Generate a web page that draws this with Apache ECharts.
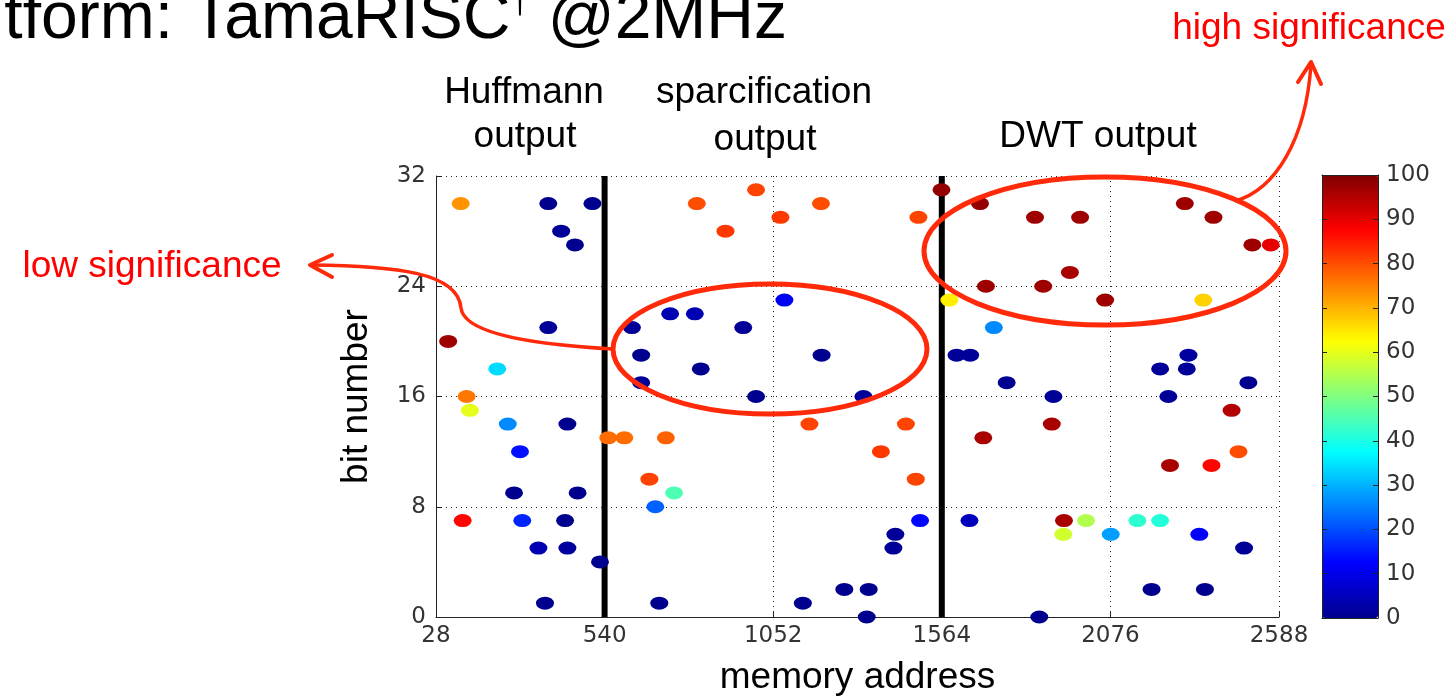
<!DOCTYPE html>
<html><head><meta charset="utf-8">
<script src="https://cdn.jsdelivr.net/npm/echarts@6/dist/echarts.min.js"></script>
<style>html,body{margin:0;padding:0;background:#fff}#c{width:1454px;height:696px}</style>
</head><body><div id="c"></div>
<script>
// ---- data ----
const xTicks = [28, 540, 1052, 1564, 2076, 2588];
const yTicks = [0, 8, 16, 24, 32];
const colorbarTicks = [0, 10, 20, 30, 40, 50, 60, 70, 80, 90, 100];
const stageBoundaries = [540, 1564];
const memAddress = [
  103, 369, 503, 408, 450, 369, 65, 214, 121, 131, 246, 427, 283, 265, 458, 109, 290, 420, 339, 427, 526, 359, 551,
  1000, 820, 1197, 1074, 1493, 907, 1086, 739, 814, 623, 961, 651, 1199, 832, 651, 1000, 1326, 600, 726, 1162, 1455,
  1379, 676, 1485, 751, 694, 1498, 1423, 1417, 1268, 1342, 706, 1142, 1336,
  1563, 1680, 1847, 1984, 2302, 2389, 2507, 2563, 1953, 1698, 1872, 2060, 1587, 2358, 1722, 1609, 1650, 2313, 2227,
  2308, 1761, 2495, 1903, 2252, 2444, 1898, 1690, 2465, 2257, 2383, 1648, 1935, 2002, 2158, 2227, 1933, 2077, 2346,
  2482, 2201, 2363, 1860
];
const bitNumber = [
  30, 30, 30, 28, 27, 21, 20, 18, 16, 15, 14, 14, 12, 9, 9, 7, 7, 7, 5, 5, 4, 1, 13,
  31, 30, 30, 29, 29, 28, 23, 22, 22, 21, 21, 19, 19, 18, 17, 16, 16, 13, 13, 14, 14,
  12, 10, 10, 9, 8, 7, 6, 5, 2, 2, 1, 1, 0,
  31, 30, 29, 29, 30, 29, 27, 27, 25, 24, 24, 23, 23, 23, 21, 19, 19, 19, 18,
  18, 17, 17, 16, 16, 15, 14, 13, 12, 11, 11, 7, 7, 7, 7, 7, 6, 6, 6,
  5, 2, 2, 0
];
const significance = [
  73, 0, 0, 1, 0, 1, 97, 34, 76, 60, 26, 0, 14, 0, 0, 87, 16, 0, 4, 2, 0, 0, 77,
  81, 80, 80, 82, 81, 82, 11, 4, 4, 1, 1, 0, 0, 0, 1, 0, 1, 77, 78, 81, 81,
  82, 81, 81, 45, 22, 13, 1, 1, 0, 0, 0, 0, 0,
  98, 98, 97, 97, 97, 97, 97, 90, 96, 97, 97, 97, 64, 67, 26, 1, 1, 2, 1,
  1, 0, 0, 1, 1, 95, 96, 96, 80, 96, 87, 5, 96, 55, 42, 41, 58, 28, 12,
  1, 0, 0, 0
];

// ---- chart ----
const jet = ['#00008F', '#0000FF', '#0080FF', '#00FFFF', '#80FF80', '#FFFF00', '#FF8000', '#FF0000', '#800000'];
const points = memAddress.map((x, i) => [x, bitNumber[i], significance[i]]);
const plain = v => String(v);
const tickFont = { color: '#333', fontFamily: 'DejaVu Sans', fontSize: 23, formatter: plain };
const textFont = 'Liberation Sans';
const annot = '#FF2A0A';
const dot = 'path://M0,50 A50,50 0 1,1 100,50 A50,50 0 1,1 0,50 Z';

const chart = echarts.init(document.getElementById('c'), null, { renderer: 'canvas' });

const boundarySeries = stageBoundaries.map(b => ({
  type: 'line', xAxisIndex: 0, yAxisIndex: 0, z: 1,
  data: [[b, yTicks[0]], [b, yTicks[yTicks.length - 1]]],
  symbol: 'none', lineStyle: { color: '#000', width: 6 }, silent: true
}));

const option = {
  backgroundColor: '#fff',
  animation: false,
  grid: [
    { left: 436, right: 175, top: 176, bottom: 79, outerBoundsMode: 'none', containLabel: false },
    { left: 1322, top: 175, width: 56, height: 443, outerBoundsMode: 'none', containLabel: false }
  ],
  xAxis: [
    {
      type: 'value', gridIndex: 0, min: xTicks[0], max: xTicks[xTicks.length - 1], interval: 512,
      name: 'memory address', nameLocation: 'middle', nameGap: 42,
      nameTextStyle: { fontFamily: textFont, fontSize: 37, color: '#000' },
      axisLine: { show: true, lineStyle: { color: '#222', width: 1 } },
      axisTick: { show: true, inside: true, length: 6, customValues: xTicks, lineStyle: { color: '#222' } },
      axisLabel: Object.assign({ customValues: xTicks, margin: 8 }, tickFont),
      splitLine: { show: true, lineStyle: { color: '#222', width: 1, type: [1, 4] } }
    },
    { type: 'value', gridIndex: 1, min: 0, max: 1, position: 'bottom', z: 10,
      axisLine: { show: true, onZero: false, lineStyle: { color: '#222' } }, axisTick: { show: false }, axisLabel: { show: false }, splitLine: { show: false } },
    { type: 'value', gridIndex: 1, min: 0, max: 1, position: 'top', z: 10,
      axisLine: { show: true, onZero: false, lineStyle: { color: '#222' } }, axisTick: { show: false }, axisLabel: { show: false }, splitLine: { show: false } }
  ],
  yAxis: [
    {
      type: 'value', gridIndex: 0, min: yTicks[0], max: yTicks[yTicks.length - 1], interval: 8,
      name: 'bit number', nameLocation: 'middle', nameGap: 61,
      nameTextStyle: { fontFamily: textFont, fontSize: 37, color: '#000' },
      axisLine: { show: true, lineStyle: { color: '#222', width: 1 } },
      axisTick: { show: true, inside: true, length: 6, lineStyle: { color: '#222' } },
      axisLabel: Object.assign({ margin: 10 }, tickFont),
      splitLine: { show: true, lineStyle: { color: '#222', width: 1, type: [1, 4] } }
    },
    { type: 'value', gridIndex: 1, min: colorbarTicks[0], max: colorbarTicks[colorbarTicks.length - 1], interval: 10,
      position: 'right', z: 10,
      axisLine: { show: true, onZero: false, lineStyle: { color: '#222' } },
      axisTick: { show: true, inside: true, length: 5, lineStyle: { color: '#222' } },
      axisLabel: Object.assign({ margin: 8 }, tickFont),
      splitLine: { show: false } },
    { type: 'value', gridIndex: 1, min: colorbarTicks[0], max: colorbarTicks[colorbarTicks.length - 1], interval: 10,
      position: 'left', z: 10,
      axisLine: { show: true, onZero: false, lineStyle: { color: '#222' } },
      axisTick: { show: true, inside: true, length: 5, lineStyle: { color: '#222' } },
      axisLabel: { show: false }, splitLine: { show: false } }
  ],
  visualMap: {
    type: 'continuous', min: 0, max: 100, dimension: 2, seriesIndex: 0,
    calculable: false, hoverLink: false, orient: 'vertical',
    left: 1322, top: 175, itemWidth: 56, itemHeight: 443, padding: 0,
    inRange: { color: jet }
  },
  series: [
    {
      type: 'scatter', xAxisIndex: 0, yAxisIndex: 0, z: 3,
      symbol: dot, symbolSize: [18, 13], data: points, clip: false,
      itemStyle: { opacity: 1 }
    },
    ...boundarySeries,
    { type: 'scatter', xAxisIndex: 1, yAxisIndex: 1, data: [] }
  ],
  graphic: [
    { type: 'text', z: 100, style: {
        x: 787, y: 20, textAlign: 'right', align: 'right', textVerticalAlign: 'middle', verticalAlign: 'middle',
        text: '{a|tform: TamaRISC}{b|†}{a| @2MHz}',
        rich: {
          a: { fontFamily: textFont, fontSize: 66, fill: '#000', color: '#000', verticalAlign: 'bottom' },
          b: { fontFamily: textFont, fontSize: 34, fill: '#000', color: '#000', verticalAlign: 'top' }
        }
    } },
    { type: 'text', z: 100, style: { x: 524, y: 93, text: 'Huffmann', font: '37px Liberation Sans', fill: '#000', textAlign: 'center', align: 'center', textVerticalAlign: 'middle', verticalAlign: 'middle' } },
    { type: 'text', z: 100, style: { x: 525, y: 137, text: 'output', font: '37px Liberation Sans', fill: '#000', textAlign: 'center', align: 'center', textVerticalAlign: 'middle', verticalAlign: 'middle' } },
    { type: 'text', z: 100, style: { x: 764, y: 93, text: 'sparcification', font: '37px Liberation Sans', fill: '#000', textAlign: 'center', align: 'center', textVerticalAlign: 'middle', verticalAlign: 'middle' } },
    { type: 'text', z: 100, style: { x: 765, y: 140, text: 'output', font: '37px Liberation Sans', fill: '#000', textAlign: 'center', align: 'center', textVerticalAlign: 'middle', verticalAlign: 'middle' } },
    { type: 'text', z: 100, style: { x: 1098, y: 137, text: 'DWT output', font: '37px Liberation Sans', fill: '#000', textAlign: 'center', align: 'center', textVerticalAlign: 'middle', verticalAlign: 'middle' } },
    { type: 'text', z: 100, style: { x: 1309, y: 29, text: 'high significance', font: '37px Liberation Sans', fill: '#FF0000', textAlign: 'center', align: 'center', textVerticalAlign: 'middle', verticalAlign: 'middle' } },
    { type: 'text', z: 100, style: { x: 152, y: 267, text: 'low significance', font: '37px Liberation Sans', fill: '#FF0000', textAlign: 'center', align: 'center', textVerticalAlign: 'middle', verticalAlign: 'middle' } },
    { type: 'ellipse', z: 100, shape: { cx: 770, cy: 349, rx: 157, ry: 65 }, style: { fill: 'none', stroke: annot, lineWidth: 5 } },
    { type: 'ellipse', z: 100, shape: { cx: 1105, cy: 251, rx: 181, ry: 74 }, style: { fill: 'none', stroke: annot, lineWidth: 5 } },
    { type: 'bezierCurve', z: 100, shape: { x1: 310, y1: 265, cpx1: 395, cpy1: 266, cpx2: 458, cpy2: 272, x2: 461, y2: 308 }, style: { fill: 'none', stroke: annot, lineWidth: 3.5 } },
    { type: 'bezierCurve', z: 100, shape: { x1: 461, y1: 308, cpx1: 464, cpy1: 335, cpx2: 540, cpy2: 345, x2: 613, y2: 349 }, style: { fill: 'none', stroke: annot, lineWidth: 3.5 } },
    { type: 'polyline', z: 100, shape: { points: [[332, 255], [310, 265], [332, 277]] }, style: { fill: 'none', stroke: annot, lineWidth: 4, lineCap: 'round', lineJoin: 'round' } },
    { type: 'bezierCurve', z: 100, shape: { x1: 1235, y1: 201, cpx1: 1275, cpy1: 190, cpx2: 1306, cpy2: 140, x2: 1311, y2: 64 }, style: { fill: 'none', stroke: annot, lineWidth: 3.5 } },
    { type: 'polyline', z: 100, shape: { points: [[1298, 82], [1311, 62], [1321, 84]] }, style: { fill: 'none', stroke: annot, lineWidth: 4, lineCap: 'round', lineJoin: 'round' } }
  ]
};
chart.setOption(option);
</script></body></html>
